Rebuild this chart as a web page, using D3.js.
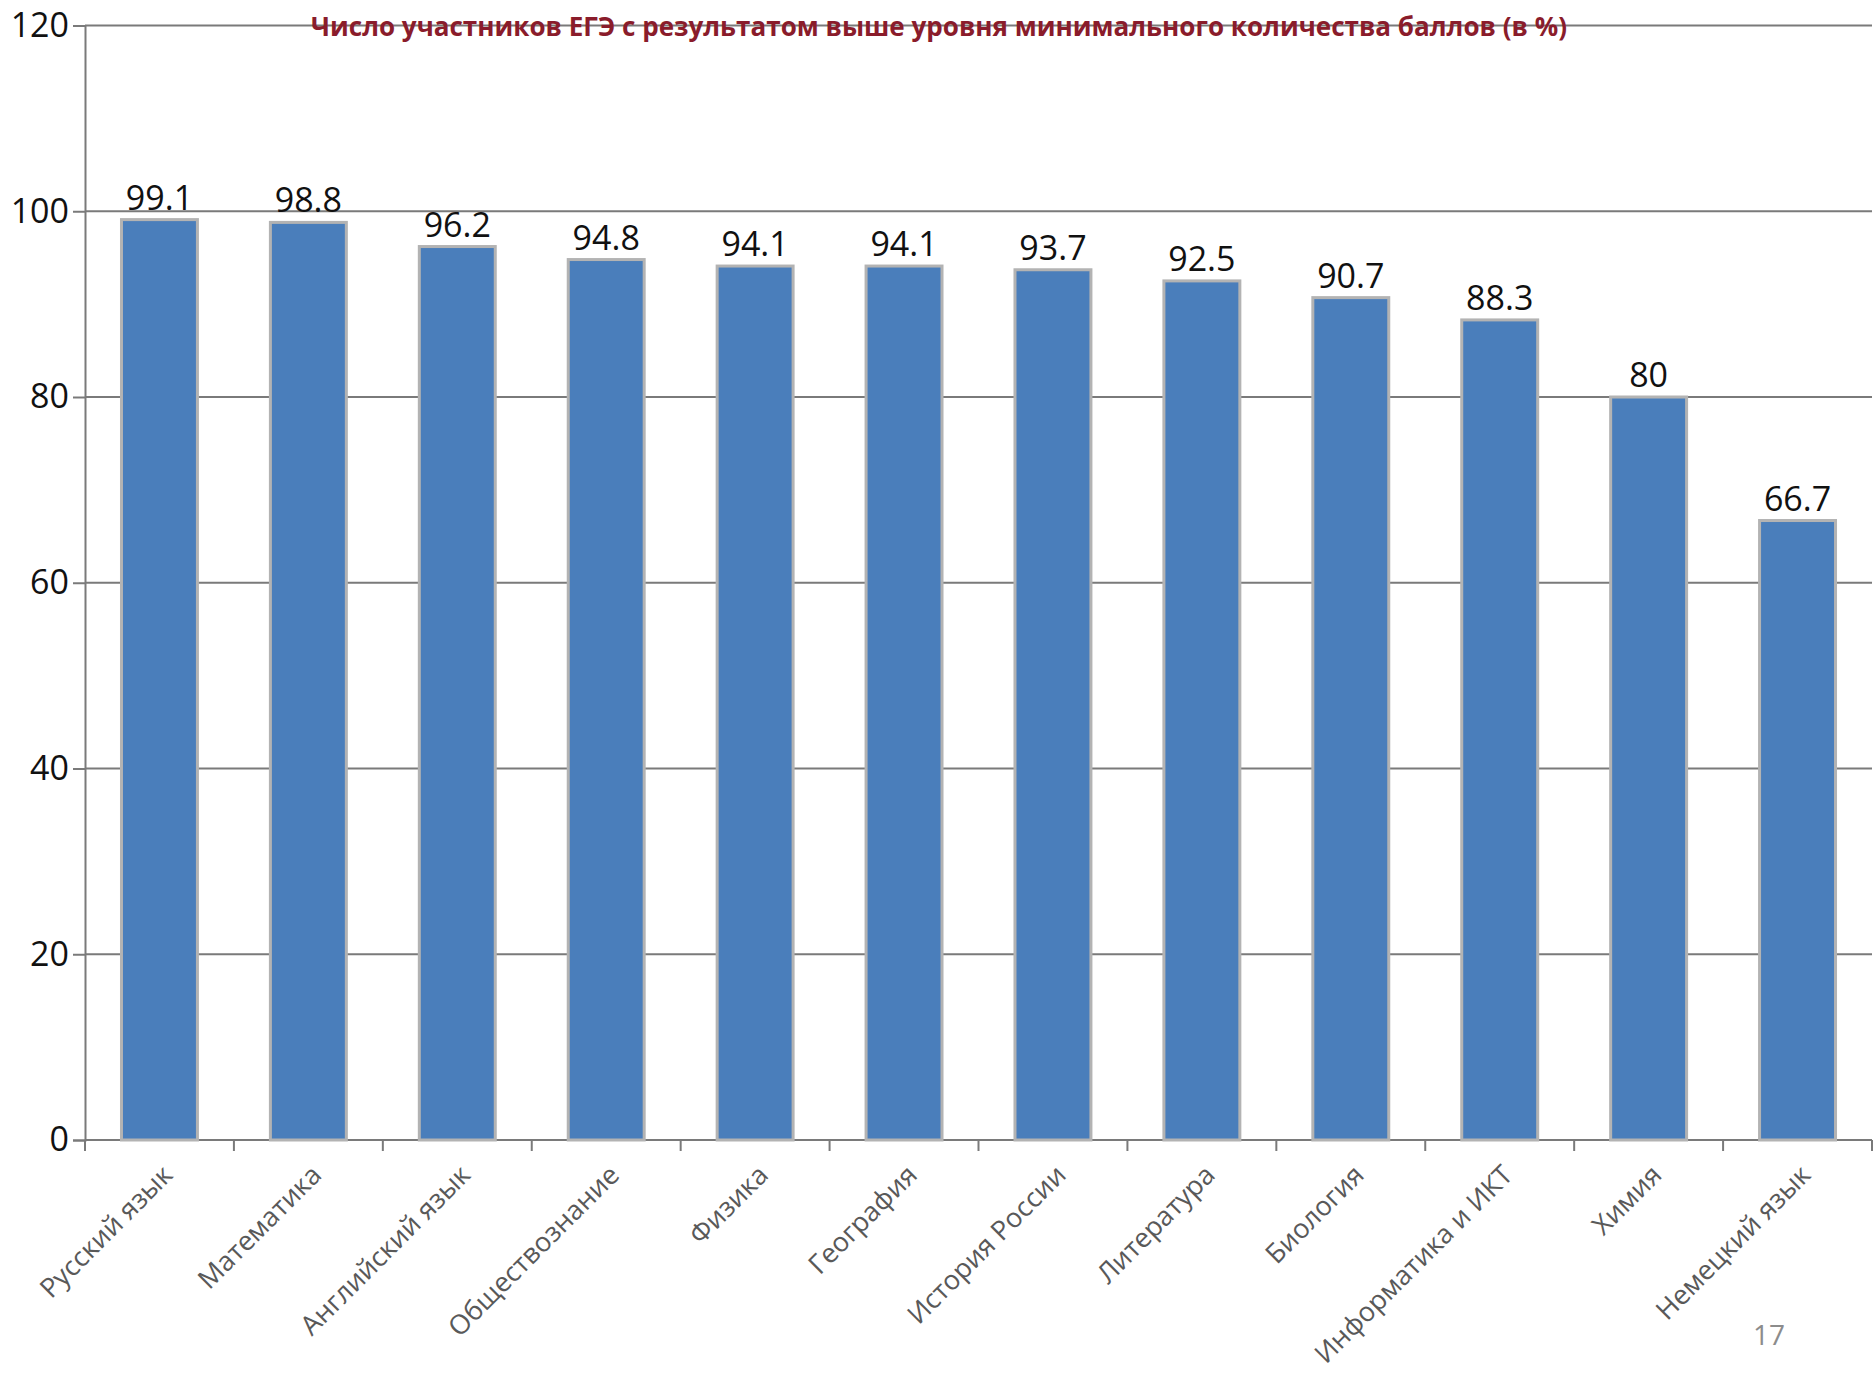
<!DOCTYPE html>
<html><head><meta charset="utf-8">
<script src="https://cdn.jsdelivr.net/npm/d3@7"></script>
<style>
html,body{margin:0;padding:0;background:#fff;}
svg{display:block;}
</style></head>
<body>
<script>
const categories = ["Русский язык","Математика","Английский язык","Обществознание","Физика","География","История России","Литература","Биология","Информатика и ИКТ","Химия","Немецкий язык"];
const values = [99.1, 98.8, 96.2, 94.8, 94.1, 94.1, 93.7, 92.5, 90.7, 88.3, 80, 66.7];
const yTicks = [0, 20, 40, 60, 80, 100, 120];
const title = "Число участников ЕГЭ с результатом выше уровня минимального количества баллов (в %)";
const pageNumber = "17";

const W = 1873, H = 1373;
const mLeft = 85, mRight = 1872, mTop = 25.5, mBottom = 1140;
const FONT = "'Liberation Sans Narrow','Arial Narrow','Open Sans',sans-serif";

const svg = d3.select("body").append("svg").attr("width", W).attr("height", H);

const x = d3.scaleBand().domain(categories).range([mLeft, mRight]).paddingInner(0.49).paddingOuter(0.245);
const y = d3.scaleLinear().domain([0, 120]).range([mBottom, mTop]);

// gridlines
svg.append("g").selectAll("line").data(yTicks.filter(d => d > 0)).join("line")
  .attr("x1", mLeft).attr("x2", mRight)
  .attr("y1", d => y(d)).attr("y2", d => y(d))
  .attr("stroke", "#7a7a7a").attr("stroke-width", 2);

// y axis
const yAxis = svg.append("g").attr("transform", `translate(${mLeft},0)`)
  .call(d3.axisLeft(y).tickValues(yTicks).tickSize(12).tickPadding(4));
yAxis.select(".domain").attr("stroke", "#7a7a7a").attr("stroke-width", 2);
yAxis.selectAll(".tick line").attr("stroke", "#7a7a7a").attr("stroke-width", 2);
yAxis.selectAll(".tick text").attr("font-family", FONT).attr("font-size", 34).attr("fill", "#111");

// x axis (ticks at band boundaries)
const step = x.step();
const boundaries = d3.range(categories.length + 1).map(i => mLeft + i * step);
svg.append("line").attr("x1", mLeft).attr("x2", mRight).attr("y1", mBottom).attr("y2", mBottom)
  .attr("stroke", "#7a7a7a").attr("stroke-width", 2);
svg.append("g").selectAll("line").data(boundaries).join("line")
  .attr("x1", d => d).attr("x2", d => d).attr("y1", mBottom).attr("y2", mBottom + 11)
  .attr("stroke", "#7a7a7a").attr("stroke-width", 2);

// bars
svg.append("g").selectAll("rect").data(values).join("rect")
  .attr("x", (d, i) => x(categories[i]))
  .attr("y", d => y(d))
  .attr("width", x.bandwidth())
  .attr("height", d => mBottom - y(d))
  .attr("fill", "#4a7ebb")
  .attr("stroke", "#b3b3b3").attr("stroke-width", 3);

// value labels
svg.append("g").selectAll("text").data(values).join("text")
  .attr("x", (d, i) => x(categories[i]) + x.bandwidth() / 2)
  .attr("y", d => y(d) - 10)
  .attr("text-anchor", "middle")
  .attr("font-family", FONT).attr("font-size", 34).attr("fill", "#111")
  .text(d => String(d));

// category labels
svg.append("g").selectAll("text").data(categories).join("text")
  .attr("transform", d => `translate(${x(d) + x.bandwidth() / 2 + 8},${mBottom + 30}) rotate(-45)`)
  .attr("text-anchor", "end")
  .attr("dy", "0.35em")
  .attr("font-family", FONT).attr("font-size", 27).attr("fill", "#595959")
  .text(d => d);

// title
svg.append("text")
  .attr("x", 939).attr("y", 36)
  .attr("text-anchor", "middle")
  .attr("font-family", FONT).attr("font-size", 27).attr("font-weight", "bold")
  .attr("fill", "#8a1c2b")
  .attr("textLength", 1256).attr("lengthAdjust", "spacingAndGlyphs")
  .text(title);

// page number
svg.append("text")
  .attr("x", 1769).attr("y", 1345)
  .attr("text-anchor", "middle")
  .attr("font-family", FONT).attr("font-size", 28).attr("fill", "#8c8c8c")
  .text(pageNumber);
</script>
</body></html>
